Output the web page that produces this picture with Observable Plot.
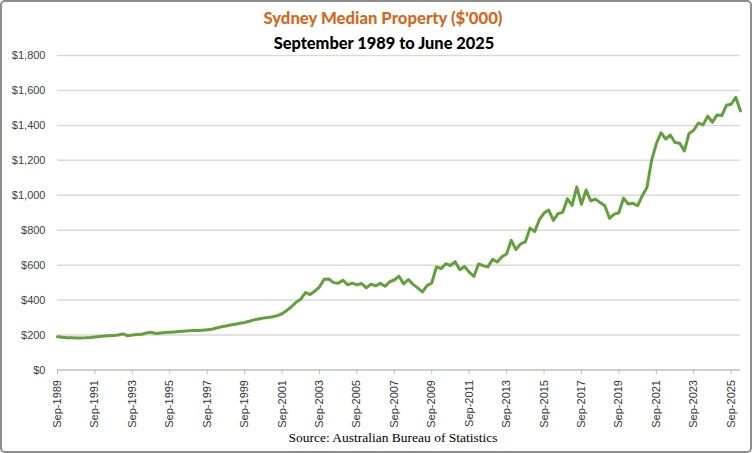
<!DOCTYPE html>
<html><head><meta charset="utf-8">
<script src="https://cdn.jsdelivr.net/npm/d3@7"></script>
<script src="https://cdn.jsdelivr.net/npm/@observablehq/plot@0.6"></script>
<style>
html,body{margin:0;padding:0;background:#fff;}
#frame{position:relative;width:752px;height:453px;overflow:hidden;background:#fff;}
#border{position:absolute;left:0;top:0;width:752px;height:453px;box-sizing:border-box;border:2px solid #8c8c8c;border-radius:5px;z-index:5;pointer-events:none;}
#title{position:absolute;left:0;width:766px;top:8px;text-align:center;font:900 16.7px Lato,sans-serif;color:#D2691E;white-space:nowrap;}
#subtitle{position:absolute;left:0;width:768px;top:33px;text-align:center;font:900 16.4px Lato,sans-serif;color:#000;white-space:nowrap;}
#chart{position:absolute;left:0;top:50px;}
#caption{position:absolute;left:0;width:786px;top:430px;text-align:center;font:13.5px "Liberation Serif",serif;color:#000;white-space:nowrap;}
</style>
</head><body>
<div id="frame">
  <div id="title">Sydney Median Property ($'000)</div>
  <div id="subtitle">September 1989 to June 2025</div>
  <div id="chart"></div>
  <div id="caption">Source: Australian Bureau of Statistics</div>
  <div id="border"></div>
</div>
<script>
// Quarterly median values ($'000), starting Sep-1989
const medianValues = [
190,187,185,184,183,183,184,186,189,192,
194,196,198,200,207,196,200,203,205,212,
216,209,212,214,216,218,220,222,224,226,
226,228,230,233,240,247,252,257,262,267,
272,279,287,292,297,300,305,311,322,340,
362,388,405,443,432,452,475,520,521,500,
496,514,488,497,487,495,470,492,481,496,
479,505,515,537,493,518,490,470,447,483,
498,590,580,608,598,620,574,592,560,535,
607,597,590,633,618,648,664,742,690,722,
733,812,792,860,898,915,856,895,903,980,
942,1048,948,1030,968,978,958,940,868,892,
900,984,950,954,940,997,1045,1200,1295,1358,
1322,1345,1302,1298,1254,1353,1372,1414,1403,1453,
1418,1460,1456,1515,1521,1560,1483
];
// X tick labels (every 8 quarters)
const xTickLabels = ["Sep-1989","Sep-1991","Sep-1993","Sep-1995","Sep-1997","Sep-1999",
  "Sep-2001","Sep-2003","Sep-2005","Sep-2007","Sep-2009","Sep-2011","Sep-2013",
  "Sep-2015","Sep-2017","Sep-2019","Sep-2021","Sep-2023","Sep-2025"];
const yTicks = [0,200,400,600,800,1000,1200,1400,1600,1800];

const data = medianValues.map((v, i) => ({q: i, v}));
const xTickPos = xTickLabels.map((_, k) => k * 8);
const lastQ = medianValues.length - 1;

const chart = Plot.plot({
  width: 752,
  height: 383,
  marginLeft: 57,
  marginRight: 12,
  marginTop: 5,
  marginBottom: 63.5,
  style: {fontFamily: "'Liberation Sans', Arial, sans-serif", fontSize: "11px", color: "#404040", background: "transparent"},
  x: {domain: [0, lastQ]},
  y: {domain: [0, 1800]},
  marks: [
    Plot.ruleY(yTicks.filter(d => d > 0), {x1: 0, x2: lastQ, stroke: "#d9d9d9", strokeWidth: 1.5}),
    Plot.ruleY([0], {x1: 0, x2: lastQ, stroke: "#bfbfbf", strokeWidth: 1.5}),
    Plot.axisY({ticks: yTicks, tickSize: 0, tickPadding: 12, tickFormat: d => "$" + d3.format(",")(d), label: null, fill: "#404040"}),
    Plot.axisX({ticks: xTickPos, tickSize: 5, tickPadding: 5, tickRotate: -90, stroke: "#bfbfbf",
      tickFormat: d => xTickLabels[d / 8], label: null, fill: "#333333"}),
    Plot.line(data, {x: "q", y: "v", stroke: "#62a03c", strokeWidth: 3, strokeLinejoin: "round", strokeLinecap: "round"})
  ]
});
document.getElementById("chart").appendChild(chart);
</script>
</body></html>
